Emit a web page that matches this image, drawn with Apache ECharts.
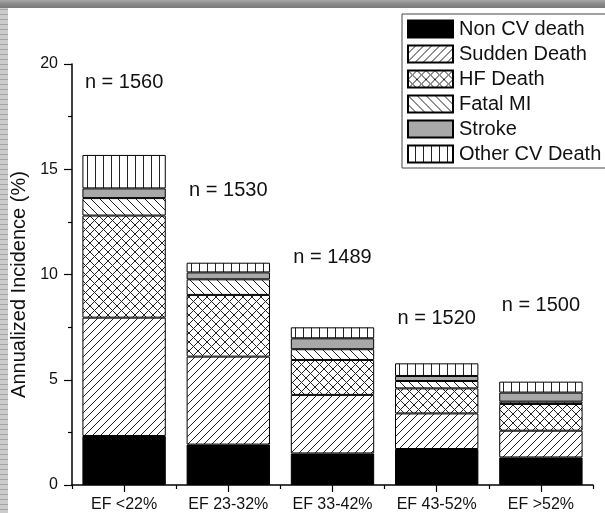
<!DOCTYPE html>
<html>
<head>
<meta charset="utf-8">
<script src="https://cdn.jsdelivr.net/npm/echarts@6/dist/echarts.min.js"></script>
<style>
  html, body { margin: 0; padding: 0; background: #fff; }
  #chart { width: 605px; height: 513px; }
</style>
</head>
<body>
<div id="chart"></div>
<script>
// Annualized incidence (%) by ejection-fraction group, split by cause of death
const categories = ['EF <22%', 'EF 23-32%', 'EF 33-42%', 'EF 43-52%', 'EF >52%'];
const sampleSizes = ['n = 1560', 'n = 1530', 'n = 1489', 'n = 1520', 'n = 1500'];
const sampleLabelLevels = [19.1, 14.0, 10.8, 7.9, 8.55];

const nonCvDeath   = [2.33, 1.92, 1.50, 1.71, 1.31];
const suddenDeath  = [5.62, 4.18, 2.78, 1.69, 1.27];
const hfDeath      = [4.85, 2.93, 1.66, 1.19, 1.27];
const fatalMI      = [0.83, 0.74, 0.51, 0.35, 0.11];
const stroke       = [0.46, 0.33, 0.52, 0.24, 0.43];
const otherCvDeath = [1.59, 0.46, 0.52, 0.60, 0.52];

const yTicks = [0, 5, 10, 15, 20];

const FONT = '"Liberation Sans", Arial, Helvetica, sans-serif';
const INK = '#111';

// Small tiles used as repeating hatch fills
function hatch(size, draw) {
  const c = document.createElement('canvas');
  c.width = size; c.height = size;
  const g = c.getContext('2d');
  g.fillStyle = '#fff';
  g.fillRect(0, 0, size, size);
  g.strokeStyle = '#222';
  g.lineWidth = 1;
  g.beginPath();
  draw(g, size);
  g.stroke();
  return { image: c, repeat: 'repeat' };
}
function slashLines(g, s) {
  g.moveTo(-1, s + 1); g.lineTo(s + 1, -1);
  g.moveTo(-1, 1); g.lineTo(1, -1);
  g.moveTo(s - 1, s + 1); g.lineTo(s + 1, s - 1);
}
function backslashLines(g, s) {
  g.moveTo(-1, -1); g.lineTo(s + 1, s + 1);
  g.moveTo(s - 1, -1); g.lineTo(s + 1, 1);
  g.moveTo(-1, s - 1); g.lineTo(1, s + 1);
}
const slashFill = hatch(8, slashLines);
const crossFill = hatch(9, (g, s) => { slashLines(g, s); backslashLines(g, s); });
const backFill = hatch(9, backslashLines);
const verticalFill = hatch(8, (g, s) => { g.moveTo(s - 0.5, 0); g.lineTo(s - 0.5, s); });

// Frame strip pattern on the left edge
const stripCanvas = document.createElement('canvas');
stripCanvas.width = 8; stripCanvas.height = 5;
(function () {
  const g = stripCanvas.getContext('2d');
  g.fillStyle = '#cbcbcb'; g.fillRect(0, 0, 8, 5);
  g.fillStyle = '#a4a4a4'; g.fillRect(0, 4, 8, 1);
})();

function barSeries(name, data, fill) {
  return {
    name: name,
    type: 'bar',
    stack: 'total',
    barWidth: '80%',
    data: data,
    itemStyle: { color: fill, borderColor: '#000', borderWidth: 1 },
    emphasis: { disabled: true }
  };
}

const chart = echarts.init(document.getElementById('chart'), null, { renderer: 'canvas' });

chart.setOption({
  animation: false,
  backgroundColor: '#fff',
  textStyle: { fontFamily: FONT, color: INK },
  grid: { left: 72, right: 12, top: 64, bottom: 28, containLabel: false },
  legend: {
    orient: 'vertical',
    left: 402,
    top: 14,
    padding: [5, 8, 4, 5],
    itemWidth: 45,
    itemHeight: 17,
    itemGap: 5,
    borderColor: '#444',
    borderWidth: 1,
    backgroundColor: '#fff',
    icon: 'rect',
    selectedMode: false,
    textStyle: { fontFamily: FONT, fontSize: 20, color: INK, lineHeight: 17, padding: [0, 0, 0, 1] },
    data: ['Non CV death', 'Sudden Death', 'HF Death', 'Fatal MI', 'Stroke', 'Other CV Death']
  },
  xAxis: [
    {
      type: 'category',
      data: categories,
      position: 'bottom',
      axisLine: { lineStyle: { color: '#000', width: 1.5 } },
      axisTick: { show: true, length: 4, lineStyle: { color: '#000', width: 1.2 } },
      axisLabel: { show: false }
    },
    {
      type: 'category',
      data: categories,
      position: 'bottom',
      axisLine: { show: false },
      axisTick: { show: true, alignWithLabel: true, length: 7, lineStyle: { color: '#000', width: 1.2 } },
      axisLabel: { fontFamily: FONT, fontSize: 16, color: INK, margin: 12 }
    }
  ],
  yAxis: {
    type: 'value',
    min: yTicks[0],
    max: yTicks[yTicks.length - 1],
    interval: yTicks[1] - yTicks[0],
    name: 'Annualized Incidence (%)',
    nameLocation: 'middle',
    nameGap: 43,
    nameTextStyle: { fontFamily: FONT, fontSize: 20, color: INK, padding: [0, 20, 0, 0] },
    axisLine: { show: true, lineStyle: { color: '#000', width: 1.5 } },
    axisTick: { show: true, length: 8, lineStyle: { color: '#000', width: 1.2 } },
    minorTick: { show: true, splitNumber: 2, length: 4, lineStyle: { color: '#000', width: 1.2 } },
    splitLine: { show: false },
    axisLabel: { fontFamily: FONT, fontSize: 16, color: INK, margin: 14 }
  },
  series: [
    barSeries('Non CV death', nonCvDeath, '#000'),
    barSeries('Sudden Death', suddenDeath, slashFill),
    barSeries('HF Death', hfDeath, crossFill),
    barSeries('Fatal MI', fatalMI, backFill),
    barSeries('Stroke', stroke, '#a8a8a8'),
    barSeries('Other CV Death', otherCvDeath, verticalFill),
    {
      name: 'Sample size',
      type: 'scatter',
      symbolSize: 0,
      silent: true,
      itemStyle: { opacity: 1 },
      data: sampleLabelLevels.map((v, i) => [categories[i], v]),
      label: {
        show: true,
        position: 'inside',
        fontFamily: FONT,
        fontSize: 20,
        color: INK,
        opacity: 1,
        formatter: p => sampleSizes[p.dataIndex]
      }
    }
  ],
  graphic: [
    {
      type: 'rect',
      silent: true,
      z: 100,
      shape: { x: 0, y: 0, width: 605, height: 8 },
      style: {
        fill: new echarts.graphic.LinearGradient(0, 0, 0, 1, [
          { offset: 0, color: '#a9a9a9' },
          { offset: 0.5, color: '#8a8a8a' },
          { offset: 1, color: '#7a7a7a' }
        ])
      }
    },
    {
      type: 'rect',
      silent: true,
      z: 100,
      shape: { x: 0, y: 8, width: 8, height: 505 },
      style: { fill: { image: stripCanvas, repeat: 'repeat' } }
    }
  ]
});
</script>
</body>
</html>
